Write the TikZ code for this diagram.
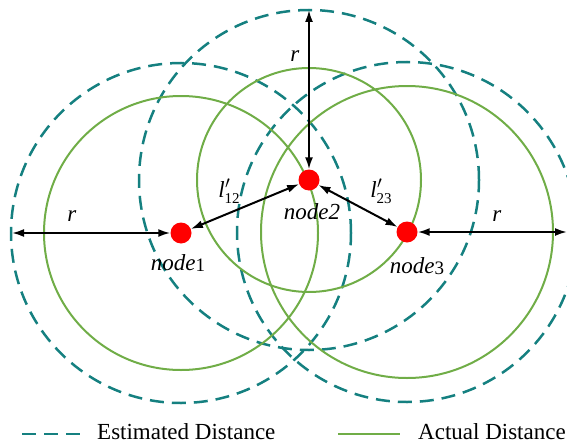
\documentclass[tikz,border=0pt]{standalone}
\usepackage{fontspec}
\setmainfont{Liberation Serif}
\usetikzlibrary{arrows.meta}
\definecolor{tealc}{RGB}{21,128,128}
\definecolor{greenc}{RGB}{112,173,71}
\newcommand{\lprime}[1]{\textit{l}\makebox[0pt][l]{\kern0.5pt$'$}\raisebox{-0.55ex}{\fontsize{15}{16}\selectfont #1}}
\begin{document}
\begin{tikzpicture}[x=1pt,y=-1pt,
  est/.style={draw=tealc,line width=2.5pt,dash pattern=on 14pt off 8pt},
  act/.style={draw=greenc,line width=2pt},
  dot/.style={circle,fill=red,inner sep=0pt,minimum size=21pt},
  dist/.style={line width=2pt,{Latex[length=12pt,width=8pt]}-{Latex[length=12pt,width=8pt]}},
  lbl/.style={font=\fontsize{23}{26}\selectfont, inner sep=0pt},
]
\clip (0,0) rectangle (567,444);
% node positions
\coordinate (c1) at (181,233);
\coordinate (c2) at (309,180);
\coordinate (c3) at (407,232);
% estimated distance circles
\draw[est] (c1) circle[radius=170pt];
\draw[est] (c2) circle[radius=170pt];
\draw[est] (c3) circle[radius=170pt];
% actual distance circles
\draw[act] (c1) circle[radius=137pt];
\draw[act] (c2) circle[radius=112pt];
\draw[act] (c3) circle[radius=146pt];
% nodes
\node[dot] (n1) at (c1) {};
\node[dot] (n2) at (c2) {};
\node[dot] (n3) at (c3) {};
% free ends
\coordinate (L) at (12,233);
\coordinate (T) at (309,10);
\coordinate (R) at (567,232);
% arrows
\draw[dist] (L) -- (n1);
\draw[dist] (T) -- (n2);
\draw[dist] (n3) -- (R);
\draw[dist] (n1) -- (n2);
\draw[dist] (n2) -- (n3);
% labels
\node[lbl] (rl) at (72,216) {\textit{r}};
\node[lbl] (rt) at (295,56) {\textit{r}};
\node[lbl] (rr) at (497,216) {\textit{r}};
\node[lbl] (l12) at (229,191) {\lprime{12}};
\node[lbl] (l23) at (381,191) {\lprime{23}};
\node[lbl] (t1) at (178,263) {\textit{node}\raisebox{-0.15ex}{\fontsize{19}{20}\selectfont 1}};
\node[lbl] (t2) at (312,212) {\textit{node2}};
\node[lbl] (t3) at (417,266) {\textit{node}\raisebox{-0.15ex}{\fontsize{19}{20}\selectfont 3}};
% legend
\coordinate (e1) at (22,434);
\coordinate (e2) at (81,434);
\coordinate (a1) at (338,434);
\coordinate (a2) at (400,434);
\draw[est] (e1) -- (e2);
\draw[act] (a1) -- (a2);
\node[lbl,anchor=west] (te) at (97,432) {Estimated Distance};
\node[lbl,anchor=west] (ta) at (418,432) {Actual Distance};
\end{tikzpicture}
\end{document}
